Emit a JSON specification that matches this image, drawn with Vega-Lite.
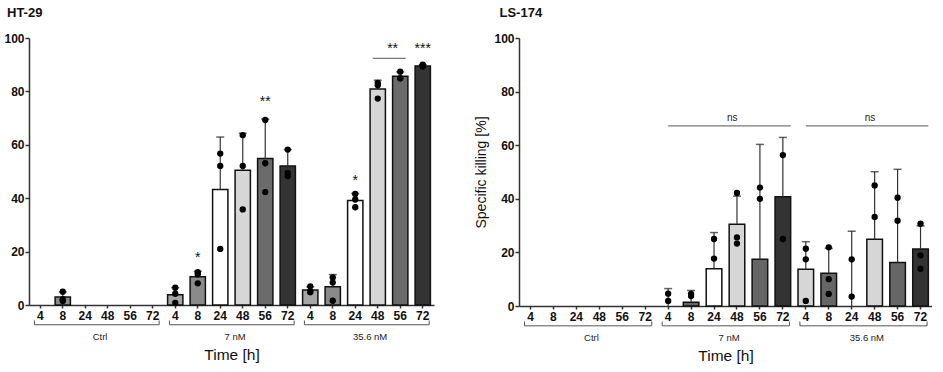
{
  "$schema": "https://vega.github.io/schema/vega-lite/v6.json",
  "background": "white",
  "padding": {"left": 3, "top": 7, "right": 0, "bottom": 0},
  "spacing": 40,
  "resolve": {"scale": {"color": "independent"}},
  "datasets": {
    "bars": [
      {"cell": "HT-29", "key": "Ctrl|4", "time": "4", "mean": 0, "upper": 0},
      {"cell": "HT-29", "key": "Ctrl|8", "time": "8", "mean": 3.0, "upper": 4.9},
      {"cell": "HT-29", "key": "Ctrl|24", "time": "24", "mean": 0, "upper": 0},
      {"cell": "HT-29", "key": "Ctrl|48", "time": "48", "mean": 0, "upper": 0},
      {"cell": "HT-29", "key": "Ctrl|56", "time": "56", "mean": 0, "upper": 0},
      {"cell": "HT-29", "key": "Ctrl|72", "time": "72", "mean": 0, "upper": 0},
      {"cell": "HT-29", "key": "7 nM|4", "time": "4", "mean": 3.8, "upper": 6.5},
      {"cell": "HT-29", "key": "7 nM|8", "time": "8", "mean": 10.6, "upper": 12.6},
      {"cell": "HT-29", "key": "7 nM|24", "time": "24", "mean": 43.3, "upper": 62.9},
      {"cell": "HT-29", "key": "7 nM|48", "time": "48", "mean": 50.5, "upper": 64.3},
      {"cell": "HT-29", "key": "7 nM|56", "time": "56", "mean": 54.9, "upper": 69.6},
      {"cell": "HT-29", "key": "7 nM|72", "time": "72", "mean": 52.1, "upper": 58.2},
      {"cell": "HT-29", "key": "35.6 nM|4", "time": "4", "mean": 5.6, "upper": 6.8},
      {"cell": "HT-29", "key": "35.6 nM|8", "time": "8", "mean": 6.8, "upper": 11.4},
      {"cell": "HT-29", "key": "35.6 nM|24", "time": "24", "mean": 39.1, "upper": 41.8},
      {"cell": "HT-29", "key": "35.6 nM|48", "time": "48", "mean": 80.9, "upper": 84.2},
      {"cell": "HT-29", "key": "35.6 nM|56", "time": "56", "mean": 85.7, "upper": 87.3},
      {"cell": "HT-29", "key": "35.6 nM|72", "time": "72", "mean": 89.5, "upper": 90.0},
      {"cell": "LS-174", "key": "Ctrl|4", "time": "4", "mean": 0, "upper": 0},
      {"cell": "LS-174", "key": "Ctrl|8", "time": "8", "mean": 0, "upper": 0},
      {"cell": "LS-174", "key": "Ctrl|24", "time": "24", "mean": 0, "upper": 0},
      {"cell": "LS-174", "key": "Ctrl|48", "time": "48", "mean": 0, "upper": 0},
      {"cell": "LS-174", "key": "Ctrl|56", "time": "56", "mean": 0, "upper": 0},
      {"cell": "LS-174", "key": "Ctrl|72", "time": "72", "mean": 0, "upper": 0},
      {"cell": "LS-174", "key": "7 nM|4", "time": "4", "mean": 0, "upper": 6.5},
      {"cell": "LS-174", "key": "7 nM|8", "time": "8", "mean": 1.4, "upper": 5.8},
      {"cell": "LS-174", "key": "7 nM|24", "time": "24", "mean": 13.9, "upper": 27.4},
      {"cell": "LS-174", "key": "7 nM|48", "time": "48", "mean": 30.5, "upper": 41.0},
      {"cell": "LS-174", "key": "7 nM|56", "time": "56", "mean": 17.4, "upper": 60.3},
      {"cell": "LS-174", "key": "7 nM|72", "time": "72", "mean": 40.8, "upper": 62.9},
      {"cell": "LS-174", "key": "35.6 nM|4", "time": "4", "mean": 13.7, "upper": 24.0},
      {"cell": "LS-174", "key": "35.6 nM|8", "time": "8", "mean": 12.2, "upper": 21.5},
      {"cell": "LS-174", "key": "35.6 nM|24", "time": "24", "mean": 0, "upper": 27.9},
      {"cell": "LS-174", "key": "35.6 nM|48", "time": "48", "mean": 24.9, "upper": 50.1},
      {"cell": "LS-174", "key": "35.6 nM|56", "time": "56", "mean": 16.2, "upper": 51.0},
      {"cell": "LS-174", "key": "35.6 nM|72", "time": "72", "mean": 21.3, "upper": 29.9}
    ],
    "pts": [
      {"cell": "HT-29", "key": "Ctrl|8", "v": 5.0},
      {"cell": "HT-29", "key": "Ctrl|8", "v": 2.2},
      {"cell": "HT-29", "key": "Ctrl|8", "v": 1.5},
      {"cell": "HT-29", "key": "7 nM|4", "v": 6.5},
      {"cell": "HT-29", "key": "7 nM|4", "v": 4.2},
      {"cell": "HT-29", "key": "7 nM|4", "v": 0.8},
      {"cell": "HT-29", "key": "7 nM|8", "v": 12.3},
      {"cell": "HT-29", "key": "7 nM|8", "v": 11.5},
      {"cell": "HT-29", "key": "7 nM|8", "v": 8.1},
      {"cell": "HT-29", "key": "7 nM|24", "v": 56.7},
      {"cell": "HT-29", "key": "7 nM|24", "v": 52.1},
      {"cell": "HT-29", "key": "7 nM|24", "v": 21.0},
      {"cell": "HT-29", "key": "7 nM|48", "v": 63.6},
      {"cell": "HT-29", "key": "7 nM|48", "v": 52.1},
      {"cell": "HT-29", "key": "7 nM|48", "v": 35.8},
      {"cell": "HT-29", "key": "7 nM|56", "v": 69.3},
      {"cell": "HT-29", "key": "7 nM|56", "v": 53.1},
      {"cell": "HT-29", "key": "7 nM|56", "v": 42.3},
      {"cell": "HT-29", "key": "7 nM|72", "v": 58.2},
      {"cell": "HT-29", "key": "7 nM|72", "v": 49.5},
      {"cell": "HT-29", "key": "7 nM|72", "v": 48.3},
      {"cell": "HT-29", "key": "35.6 nM|4", "v": 7.0},
      {"cell": "HT-29", "key": "35.6 nM|4", "v": 5.2},
      {"cell": "HT-29", "key": "35.6 nM|4", "v": 4.8},
      {"cell": "HT-29", "key": "35.6 nM|8", "v": 10.3},
      {"cell": "HT-29", "key": "35.6 nM|8", "v": 8.4},
      {"cell": "HT-29", "key": "35.6 nM|8", "v": 1.6},
      {"cell": "HT-29", "key": "35.6 nM|24", "v": 41.6},
      {"cell": "HT-29", "key": "35.6 nM|24", "v": 39.5},
      {"cell": "HT-29", "key": "35.6 nM|24", "v": 36.6},
      {"cell": "HT-29", "key": "35.6 nM|48", "v": 83.2},
      {"cell": "HT-29", "key": "35.6 nM|48", "v": 82.3},
      {"cell": "HT-29", "key": "35.6 nM|48", "v": 77.3},
      {"cell": "HT-29", "key": "35.6 nM|56", "v": 87.4},
      {"cell": "HT-29", "key": "35.6 nM|56", "v": 84.9},
      {"cell": "HT-29", "key": "35.6 nM|56", "v": 84.9},
      {"cell": "HT-29", "key": "35.6 nM|72", "v": 90.0},
      {"cell": "HT-29", "key": "35.6 nM|72", "v": 89.6},
      {"cell": "HT-29", "key": "35.6 nM|72", "v": 89.3},
      {"cell": "LS-174", "key": "7 nM|4", "v": 4.6},
      {"cell": "LS-174", "key": "7 nM|4", "v": 1.9},
      {"cell": "LS-174", "key": "7 nM|8", "v": 4.5},
      {"cell": "LS-174", "key": "7 nM|8", "v": 3.7},
      {"cell": "LS-174", "key": "7 nM|24", "v": 25.0},
      {"cell": "LS-174", "key": "7 nM|24", "v": 17.7},
      {"cell": "LS-174", "key": "7 nM|48", "v": 42.2},
      {"cell": "LS-174", "key": "7 nM|48", "v": 25.6},
      {"cell": "LS-174", "key": "7 nM|48", "v": 23.3},
      {"cell": "LS-174", "key": "7 nM|56", "v": 44.2},
      {"cell": "LS-174", "key": "7 nM|56", "v": 40.0},
      {"cell": "LS-174", "key": "7 nM|72", "v": 56.3},
      {"cell": "LS-174", "key": "7 nM|72", "v": 25.0},
      {"cell": "LS-174", "key": "35.6 nM|4", "v": 21.4},
      {"cell": "LS-174", "key": "35.6 nM|4", "v": 17.4},
      {"cell": "LS-174", "key": "35.6 nM|4", "v": 1.9},
      {"cell": "LS-174", "key": "35.6 nM|8", "v": 21.9},
      {"cell": "LS-174", "key": "35.6 nM|8", "v": 10.0},
      {"cell": "LS-174", "key": "35.6 nM|8", "v": 4.5},
      {"cell": "LS-174", "key": "35.6 nM|24", "v": 17.4},
      {"cell": "LS-174", "key": "35.6 nM|24", "v": 3.5},
      {"cell": "LS-174", "key": "35.6 nM|48", "v": 45.0},
      {"cell": "LS-174", "key": "35.6 nM|48", "v": 33.2},
      {"cell": "LS-174", "key": "35.6 nM|56", "v": 40.4},
      {"cell": "LS-174", "key": "35.6 nM|56", "v": 31.8},
      {"cell": "LS-174", "key": "35.6 nM|72", "v": 30.7},
      {"cell": "LS-174", "key": "35.6 nM|72", "v": 18.9},
      {"cell": "LS-174", "key": "35.6 nM|72", "v": 13.9}
    ],
    "brackets": [
      {"group": "Ctrl", "start": "Ctrl|4", "end": "Ctrl|72", "mid": "Ctrl|48"},
      {"group": "7 nM", "start": "7 nM|4", "end": "7 nM|72", "mid": "7 nM|48"},
      {"group": "35.6 nM", "start": "35.6 nM|4", "end": "35.6 nM|72", "mid": "35.6 nM|48"}
    ],
    "sigBar": [
      {"cell": "HT-29", "key": "7 nM|8", "label": "*", "level": 17.5},
      {"cell": "HT-29", "key": "7 nM|56", "label": "**", "level": 76},
      {"cell": "HT-29", "key": "35.6 nM|24", "label": "*", "level": 46.5},
      {"cell": "HT-29", "key": "35.6 nM|72", "label": "***", "level": 96}
    ],
    "sigSpan": [
      {"cell": "HT-29", "start": "35.6 nM|48", "end": "35.6 nM|56", "mid": "35.6 nM|56", "label": "**", "level": 92.4, "textLevel": 96},
      {"cell": "LS-174", "start": "7 nM|4", "end": "7 nM|72", "mid": "7 nM|48", "label": "ns", "level": 67.2, "textLevel": 70.2},
      {"cell": "LS-174", "start": "35.6 nM|4", "end": "35.6 nM|72", "mid": "35.6 nM|48", "label": "ns", "level": 67.2, "textLevel": 70.2}
    ]
  },
  "hconcat": [
    {
      "width": 405,
      "height": 267,
      "title": {"text": "HT-29", "anchor": "start", "frame": "group", "dx": -22, "fontSize": 13, "fontWeight": "bold", "font": "Liberation Sans", "color": "#111", "offset": 12},
      "layer": [
        {
          "data": {"name": "bars"},
          "transform": [{"filter": "datum.cell === 'HT-29' && datum.mean > 0"}],
          "mark": {"type": "bar", "stroke": "#111", "strokeWidth": 1.5},
          "encoding": {
            "x": {"field": "key", "type": "nominal", "sort": null,
              "scale": {"domain": ["Ctrl|4","Ctrl|8","Ctrl|24","Ctrl|48","Ctrl|56","Ctrl|72","7 nM|4","7 nM|8","7 nM|24","7 nM|48","7 nM|56","7 nM|72","35.6 nM|4","35.6 nM|8","35.6 nM|24","35.6 nM|48","35.6 nM|56","35.6 nM|72"], "paddingInner": 0.32, "paddingOuter": 0.16},
              "axis": {"title": "Time [h]", "titleFontSize": 15.5, "labelAngle": 0, "labelExpr": "split(datum.label, '|')[1]", "tickSize": 3, "labelPadding": 2, "titlePadding": 26}},
            "y": {"field": "mean", "type": "quantitative", "scale": {"domain": [0, 100], "nice": false},
              "axis": {"title": null, "values": [0, 20, 40, 60, 80, 100], "tickSize": 4, "labelPadding": 1}},
            "color": {"field": "time", "type": "nominal", "legend": null,
              "scale": {"domain": ["4","8","24","48","56","72"], "range": ["#a6a6a6","#8a8a8a","#ffffff","#d6d6d6","#6b6b6b","#333333"]}}
          }
        },
        {
          "data": {"name": "bars"},
          "transform": [{"filter": "datum.cell === 'HT-29' && datum.upper > datum.mean"}],
          "mark": {"type": "rule", "color": "#333", "strokeWidth": 1.2},
          "encoding": {
            "x": {"field": "key", "type": "nominal"},
            "y": {"field": "mean", "type": "quantitative", "title": null},
            "y2": {"field": "upper"}
          }
        },
        {
          "data": {"name": "bars"},
          "transform": [{"filter": "datum.cell === 'HT-29' && datum.upper > datum.mean"}],
          "mark": {"type": "tick", "color": "#222", "orient": "horizontal", "size": 8, "thickness": 1.5},
          "encoding": {
            "x": {"field": "key", "type": "nominal"},
            "y": {"field": "upper", "type": "quantitative", "title": null}
          }
        },
        {
          "data": {"name": "pts"},
          "transform": [{"filter": "datum.cell === 'HT-29'"}],
          "mark": {"type": "circle", "color": "#000", "opacity": 1, "size": 40},
          "encoding": {
            "x": {"field": "key", "type": "nominal"},
            "y": {"field": "v", "type": "quantitative", "title": null}
          }
        },
        {
          "data": {"name": "brackets"},
          "mark": {"type": "rule", "color": "#555", "strokeWidth": 1},
          "encoding": {
            "x": {"field": "start", "type": "nominal", "bandPosition": 0.12},
            "x2": {"field": "end", "bandPosition": 0.92},
            "y": {"datum": -7.4}
          }
        },
        {
          "data": {"name": "brackets"},
          "mark": {"type": "rule", "color": "#555", "strokeWidth": 1},
          "encoding": {
            "x": {"field": "start", "type": "nominal", "bandPosition": 0.12},
            "y": {"datum": -7.4},
            "y2": {"datum": -5.8}
          }
        },
        {
          "data": {"name": "brackets"},
          "mark": {"type": "rule", "color": "#555", "strokeWidth": 1},
          "encoding": {
            "x": {"field": "end", "type": "nominal", "bandPosition": 0.92},
            "y": {"datum": -7.4},
            "y2": {"datum": -5.8}
          }
        },
        {
          "data": {"name": "brackets"},
          "mark": {"type": "text", "fontSize": 9.5, "color": "#222", "baseline": "middle", "font": "Liberation Sans"},
          "encoding": {
            "x": {"field": "mid", "type": "nominal", "bandPosition": 0},
            "y": {"datum": -11.8},
            "text": {"field": "group"}
          }
        },
        {
          "data": {"name": "sigBar"},
          "transform": [{"filter": "datum.cell === 'HT-29'"}],
          "mark": {"type": "text", "fontSize": 14, "color": "#111", "baseline": "middle", "font": "Liberation Sans"},
          "encoding": {
            "x": {"field": "key", "type": "nominal"},
            "y": {"field": "level", "type": "quantitative", "title": null},
            "text": {"field": "label"}
          }
        },
        {
          "data": {"name": "sigSpan"},
          "transform": [{"filter": "datum.cell === 'HT-29'"}],
          "mark": {"type": "rule", "color": "#555", "strokeWidth": 1},
          "encoding": {
            "x": {"field": "start", "type": "nominal", "bandPosition": 0.18},
            "x2": {"field": "end", "bandPosition": 0.85},
            "y": {"field": "level", "type": "quantitative", "title": null}
          }
        },
        {
          "data": {"name": "sigSpan"},
          "transform": [{"filter": "datum.cell === 'HT-29'"}],
          "mark": {"type": "text", "fontSize": 14, "color": "#111", "baseline": "middle", "font": "Liberation Sans"},
          "encoding": {
            "x": {"field": "mid", "type": "nominal", "bandPosition": 0},
            "y": {"field": "textLevel", "type": "quantitative", "title": null},
            "text": {"field": "label"}
          }
        }
      ]
    },
    {
      "width": 413,
      "height": 268,
      "title": {"text": "LS-174", "anchor": "start", "frame": "group", "dx": -19.5, "fontSize": 13, "fontWeight": "bold", "font": "Liberation Sans", "color": "#111", "offset": 12},
      "layer": [
        {
          "data": {"name": "bars"},
          "transform": [{"filter": "datum.cell === 'LS-174' && datum.mean > 0"}],
          "mark": {"type": "bar", "stroke": "#111", "strokeWidth": 1.5},
          "encoding": {
            "x": {"field": "key", "type": "nominal", "sort": null,
              "scale": {"domain": ["Ctrl|4","Ctrl|8","Ctrl|24","Ctrl|48","Ctrl|56","Ctrl|72","7 nM|4","7 nM|8","7 nM|24","7 nM|48","7 nM|56","7 nM|72","35.6 nM|4","35.6 nM|8","35.6 nM|24","35.6 nM|48","35.6 nM|56","35.6 nM|72"], "paddingInner": 0.32, "paddingOuter": 0.16},
              "axis": {"title": "Time [h]", "titleFontSize": 15.5, "labelAngle": 0, "labelExpr": "split(datum.label, '|')[1]", "tickSize": 3, "labelPadding": 2, "titlePadding": 26}},
            "y": {"field": "mean", "type": "quantitative", "scale": {"domain": [0, 100], "nice": false},
              "axis": {"title": "Specific killing [%]", "values": [0, 20, 40, 60, 80, 100], "tickSize": 4, "labelPadding": 1, "titlePadding": 5}},
            "color": {"field": "time", "type": "nominal", "legend": null,
              "scale": {"domain": ["4","8","24","48","56","72"], "range": ["#d6d6d6","#666666","#ffffff","#d6d6d6","#666666","#333333"]}}
          }
        },
        {
          "data": {"name": "bars"},
          "transform": [{"filter": "datum.cell === 'LS-174' && datum.upper > datum.mean"}],
          "mark": {"type": "rule", "color": "#333", "strokeWidth": 1.2},
          "encoding": {
            "x": {"field": "key", "type": "nominal"},
            "y": {"field": "mean", "type": "quantitative", "title": "Specific killing [%]"},
            "y2": {"field": "upper"}
          }
        },
        {
          "data": {"name": "bars"},
          "transform": [{"filter": "datum.cell === 'LS-174' && datum.upper > datum.mean"}],
          "mark": {"type": "tick", "color": "#222", "orient": "horizontal", "size": 8, "thickness": 1.5},
          "encoding": {
            "x": {"field": "key", "type": "nominal"},
            "y": {"field": "upper", "type": "quantitative", "title": "Specific killing [%]"}
          }
        },
        {
          "data": {"name": "pts"},
          "transform": [{"filter": "datum.cell === 'LS-174'"}],
          "mark": {"type": "circle", "color": "#000", "opacity": 1, "size": 40},
          "encoding": {
            "x": {"field": "key", "type": "nominal"},
            "y": {"field": "v", "type": "quantitative", "title": "Specific killing [%]"}
          }
        },
        {
          "data": {"name": "brackets"},
          "mark": {"type": "rule", "color": "#555", "strokeWidth": 1},
          "encoding": {
            "x": {"field": "start", "type": "nominal", "bandPosition": 0.12},
            "x2": {"field": "end", "bandPosition": 0.92},
            "y": {"datum": -7.4}
          }
        },
        {
          "data": {"name": "brackets"},
          "mark": {"type": "rule", "color": "#555", "strokeWidth": 1},
          "encoding": {
            "x": {"field": "start", "type": "nominal", "bandPosition": 0.12},
            "y": {"datum": -7.4},
            "y2": {"datum": -5.8}
          }
        },
        {
          "data": {"name": "brackets"},
          "mark": {"type": "rule", "color": "#555", "strokeWidth": 1},
          "encoding": {
            "x": {"field": "end", "type": "nominal", "bandPosition": 0.92},
            "y": {"datum": -7.4},
            "y2": {"datum": -5.8}
          }
        },
        {
          "data": {"name": "brackets"},
          "mark": {"type": "text", "fontSize": 9.5, "color": "#222", "baseline": "middle", "font": "Liberation Sans"},
          "encoding": {
            "x": {"field": "mid", "type": "nominal", "bandPosition": 0},
            "y": {"datum": -11.8},
            "text": {"field": "group"}
          }
        },
        {
          "data": {"name": "sigSpan"},
          "transform": [{"filter": "datum.cell === 'LS-174'"}],
          "mark": {"type": "rule", "color": "#555", "strokeWidth": 1},
          "encoding": {
            "x": {"field": "start", "type": "nominal", "bandPosition": 0.5},
            "x2": {"field": "end", "bandPosition": 1},
            "y": {"field": "level", "type": "quantitative", "title": "Specific killing [%]"}
          }
        },
        {
          "data": {"name": "sigSpan"},
          "transform": [{"filter": "datum.cell === 'LS-174'"}],
          "mark": {"type": "text", "fontSize": 10, "color": "#222", "baseline": "middle", "font": "Liberation Sans"},
          "encoding": {
            "x": {"field": "mid", "type": "nominal", "bandPosition": 0.2},
            "y": {"field": "textLevel", "type": "quantitative", "title": "Specific killing [%]"},
            "text": {"field": "label"}
          }
        }
      ]
    }
  ],
  "config": {
    "view": {"stroke": null},
    "font": "Liberation Sans",
    "axis": {
      "grid": false,
      "domainColor": "#333",
      "domainWidth": 1.5,
      "tickColor": "#333",
      "tickWidth": 1.5,
      "labelFont": "Liberation Sans",
      "labelFontWeight": "bold",
      "labelFontSize": 12,
      "labelColor": "#111",
      "titleFont": "Liberation Sans",
      "titleFontWeight": "normal",
      "titleFontSize": 14,
      "titleColor": "#111"
    }
  }
}
